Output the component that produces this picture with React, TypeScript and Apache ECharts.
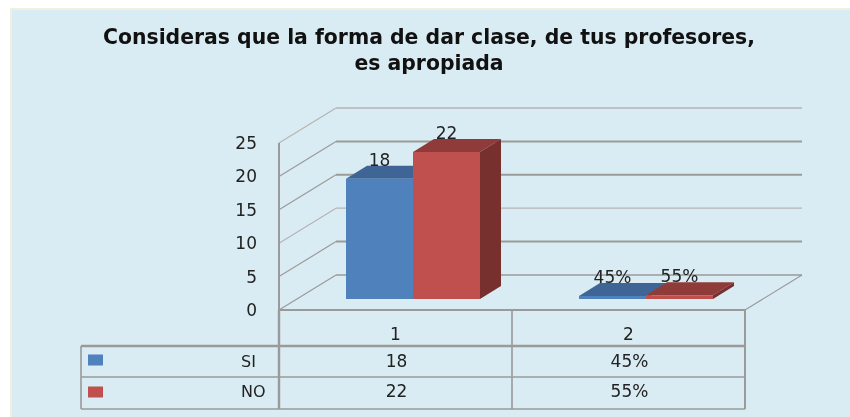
import React, { useEffect, useRef } from "react";
import * as echarts from "echarts";

const titleText = "Consideras que la forma de dar clase, de tus profesores,\nes apropiada";
const categories = ["1", "2"];
const yTicks = [0, 5, 10, 15, 20, 25];
const seriesNames = ["SI", "NO"];
const siValues = [18, 0.45];
const noValues = [22, 0.55];
const siLabels = ["18", "45%"];
const noLabels = ["22", "55%"];

const FONT = "DejaVu Sans";
const LINE = "#9a9a9a";
const LIGHT = "#b4b4b4";
const TEXT = "#222";
const BG = "#DAECF3";

const makeBars = (front: string, top: string, side: string, labels: string[], dir: number) =>
  (params: any, api: any) => {
    const idx = api.value(0);
    const val = api.value(1);
    const base = api.coord([idx, 0]);
    const head = api.coord([idx, val]);
    const ox = 17.5, oy = -11, w = 67, dx = 21, dy = -13;
    const x0 = base[0] + ox + (dir < 0 ? -w : 0);
    const x1 = x0 + w;
    const yb = base[1] + oy;
    const yt = head[1] + oy;
    return {
      type: "group",
      children: [
        { type: "polygon", shape: { points: [[x0, yt], [x0 + dx, yt + dy], [x1 + dx, yt + dy], [x1, yt]] }, style: { fill: top } },
        { type: "polygon", shape: { points: [[x1, yb], [x1 + dx, yb + dy], [x1 + dx, yt + dy], [x1, yt]] }, style: { fill: side } },
        { type: "rect", shape: { x: x0, y: yt, width: w, height: yb - yt }, style: { fill: front } },
        { type: "text", z2: 50, style: { x: x0 + w / 2, y: yt - 19, text: labels[params.dataIndex], fill: TEXT, font: `17px '${FONT}'`, align: "center", verticalAlign: "middle" } },
      ],
    };
  };

const renderWalls = (params: any, api: any) => {
  const sys = params.coordSys;
  const dx = 57, dy = -35;
  const children: any[] = [];
  const left = sys.x, right = sys.x + sys.width;
  yTicks.forEach((t) => {
    const y = api.coord([0, t])[1];
    const isTop = t === yTicks[yTicks.length - 1];
    const faint = isTop || t === 10;
    const stroke = faint ? LIGHT : LINE;
    children.push({ type: "line", shape: { x1: left, y1: y, x2: left + dx, y2: y + dy }, style: { stroke, lineWidth: 1.2, fill: "none" } });
    children.push({ type: "line", shape: { x1: left + dx, y1: y + dy, x2: right + dx, y2: y + dy }, style: { stroke, lineWidth: t === 0 || faint ? 1.3 : 2, fill: "none" } });
  });
  const y0 = api.coord([0, 0])[1];
  const y25 = api.coord([0, yTicks[yTicks.length - 1]])[1];
  children.push({ type: "line", shape: { x1: right, y1: y0, x2: right + dx, y2: y0 + dy }, style: { stroke: LINE, lineWidth: 1.2, fill: "none" } });
  children.push({ type: "line", shape: { x1: left, y1: y25, x2: left, y2: y0 }, style: { stroke: LINE, lineWidth: 2, fill: "none" } });
  return { type: "group", children };
};

const tableX = [81, 279, 512, 745];
const tableY = [310, 346, 377, 409];

function tableGraphics() {
  const items: any[] = [];
  const line = (x1: number, y1: number, x2: number, y2: number, w = 2) =>
    items.push({ type: "line", z: 20, shape: { x1, y1, x2, y2 }, style: { stroke: LINE, lineWidth: w } });
  line(tableX[1], tableY[0], tableX[3], tableY[0]);
  line(tableX[0], tableY[1], tableX[3], tableY[1], 2.4);
  line(tableX[0], tableY[2], tableX[3], tableY[2], 1.4);
  line(tableX[0], tableY[3], tableX[3], tableY[3], 1.6);
  line(tableX[0], tableY[1], tableX[0], tableY[3], 1.6);
  line(tableX[1], tableY[0], tableX[1], tableY[3], 2.4);
  line(tableX[2], tableY[0], tableX[2], tableY[3], 1.6);
  line(tableX[3], tableY[0], tableX[3], tableY[3], 2);
  const rowCY = [361, 391];
  const keyCY = [360, 392];
  const colCX = [(tableX[1] + tableX[2]) / 2 + 1, (tableX[2] + tableX[3]) / 2 + 1];
  const colors = ["#4F81BD", "#C0504D"];
  const rowLabels = [siLabels, noLabels];
  seriesNames.forEach((n, r) => {
    items.push({ type: "rect", z: 20, shape: { x: 88, y: keyCY[r] - 5.5, width: 15, height: 11 }, style: { fill: colors[r] } });
    items.push({ type: "text", z: 20, style: { x: 241, y: rowCY[r], text: n, fill: TEXT, font: `16px '${FONT}'`, textAlign: "left", textVerticalAlign: "middle" } });
    rowLabels[r].forEach((t, c) => {
      items.push({ type: "text", z: 20, style: { x: colCX[c], y: rowCY[r], text: t, fill: TEXT, font: `17px '${FONT}'`, textAlign: "center", textVerticalAlign: "middle" } });
    });
  });
  return items;
}

export default function App() {
  const ref = useRef<HTMLDivElement>(null);
  useEffect(() => {
    document.body.style.margin = "0";
    document.body.style.background = "#fff";
    const chart = echarts.init(ref.current!, undefined, { renderer: "svg" });
    const catIdx = categories.map((_, i) => i);
    chart.setOption({
      animation: false,
      backgroundColor: "#fff",
      title: {
        text: titleText,
        left: 424,
        top: 19,
        textAlign: "center",
        textStyle: { fontFamily: FONT, fontWeight: "bold", fontSize: 20.4, lineHeight: 26, color: "#111" },
      },
      grid: { left: 279, top: 143, width: 466, height: 167 },
      xAxis: {
        type: "category",
        data: categories,
        axisLine: { show: false },
        axisTick: { show: false },
        splitLine: { show: false },
        axisLabel: { fontFamily: FONT, fontSize: 17, color: TEXT, margin: 15 },
      },
      yAxis: {
        type: "value",
        min: 0,
        max: 25,
        interval: 5,
        axisLine: { show: false },
        axisTick: { show: false },
        splitLine: { show: false },
        axisLabel: { fontFamily: FONT, fontSize: 17, color: TEXT, margin: 22 },
      },
      graphic: [
        { type: "rect", z: -10, silent: true, shape: { x: 10, y: 8, width: 840, height: 409 }, style: { fill: "#EEF1DE" } },
        { type: "rect", z: -9, silent: true, shape: { x: 12, y: 10, width: 838, height: 407 }, style: { fill: BG } },
        ...tableGraphics(),
      ],
      series: [
        { type: "custom", name: "walls", z: 1, clip: false, silent: true, data: [[0, 0]], encode: { x: 0, y: 1 }, renderItem: renderWalls },
        {
          type: "custom", name: seriesNames[0], z: 2, clip: false,
          data: catIdx.map((i) => [i, siValues[i]]), encode: { x: 0, y: 1 },
          renderItem: makeBars("#4F81BD", "#3E6595", "#345579", siLabels, -1),
        },
        {
          type: "custom", name: seriesNames[1], z: 3, clip: false,
          data: catIdx.map((i) => [i, noValues[i]]), encode: { x: 0, y: 1 },
          renderItem: makeBars("#C0504D", "#8F3B39", "#78302E", noLabels, 1),
        },
      ],
    });
    return () => chart.dispose();
  }, []);
  return <div ref={ref} style={{ width: 850, height: 417, filter: "blur(0.7px)" }} />;
}
